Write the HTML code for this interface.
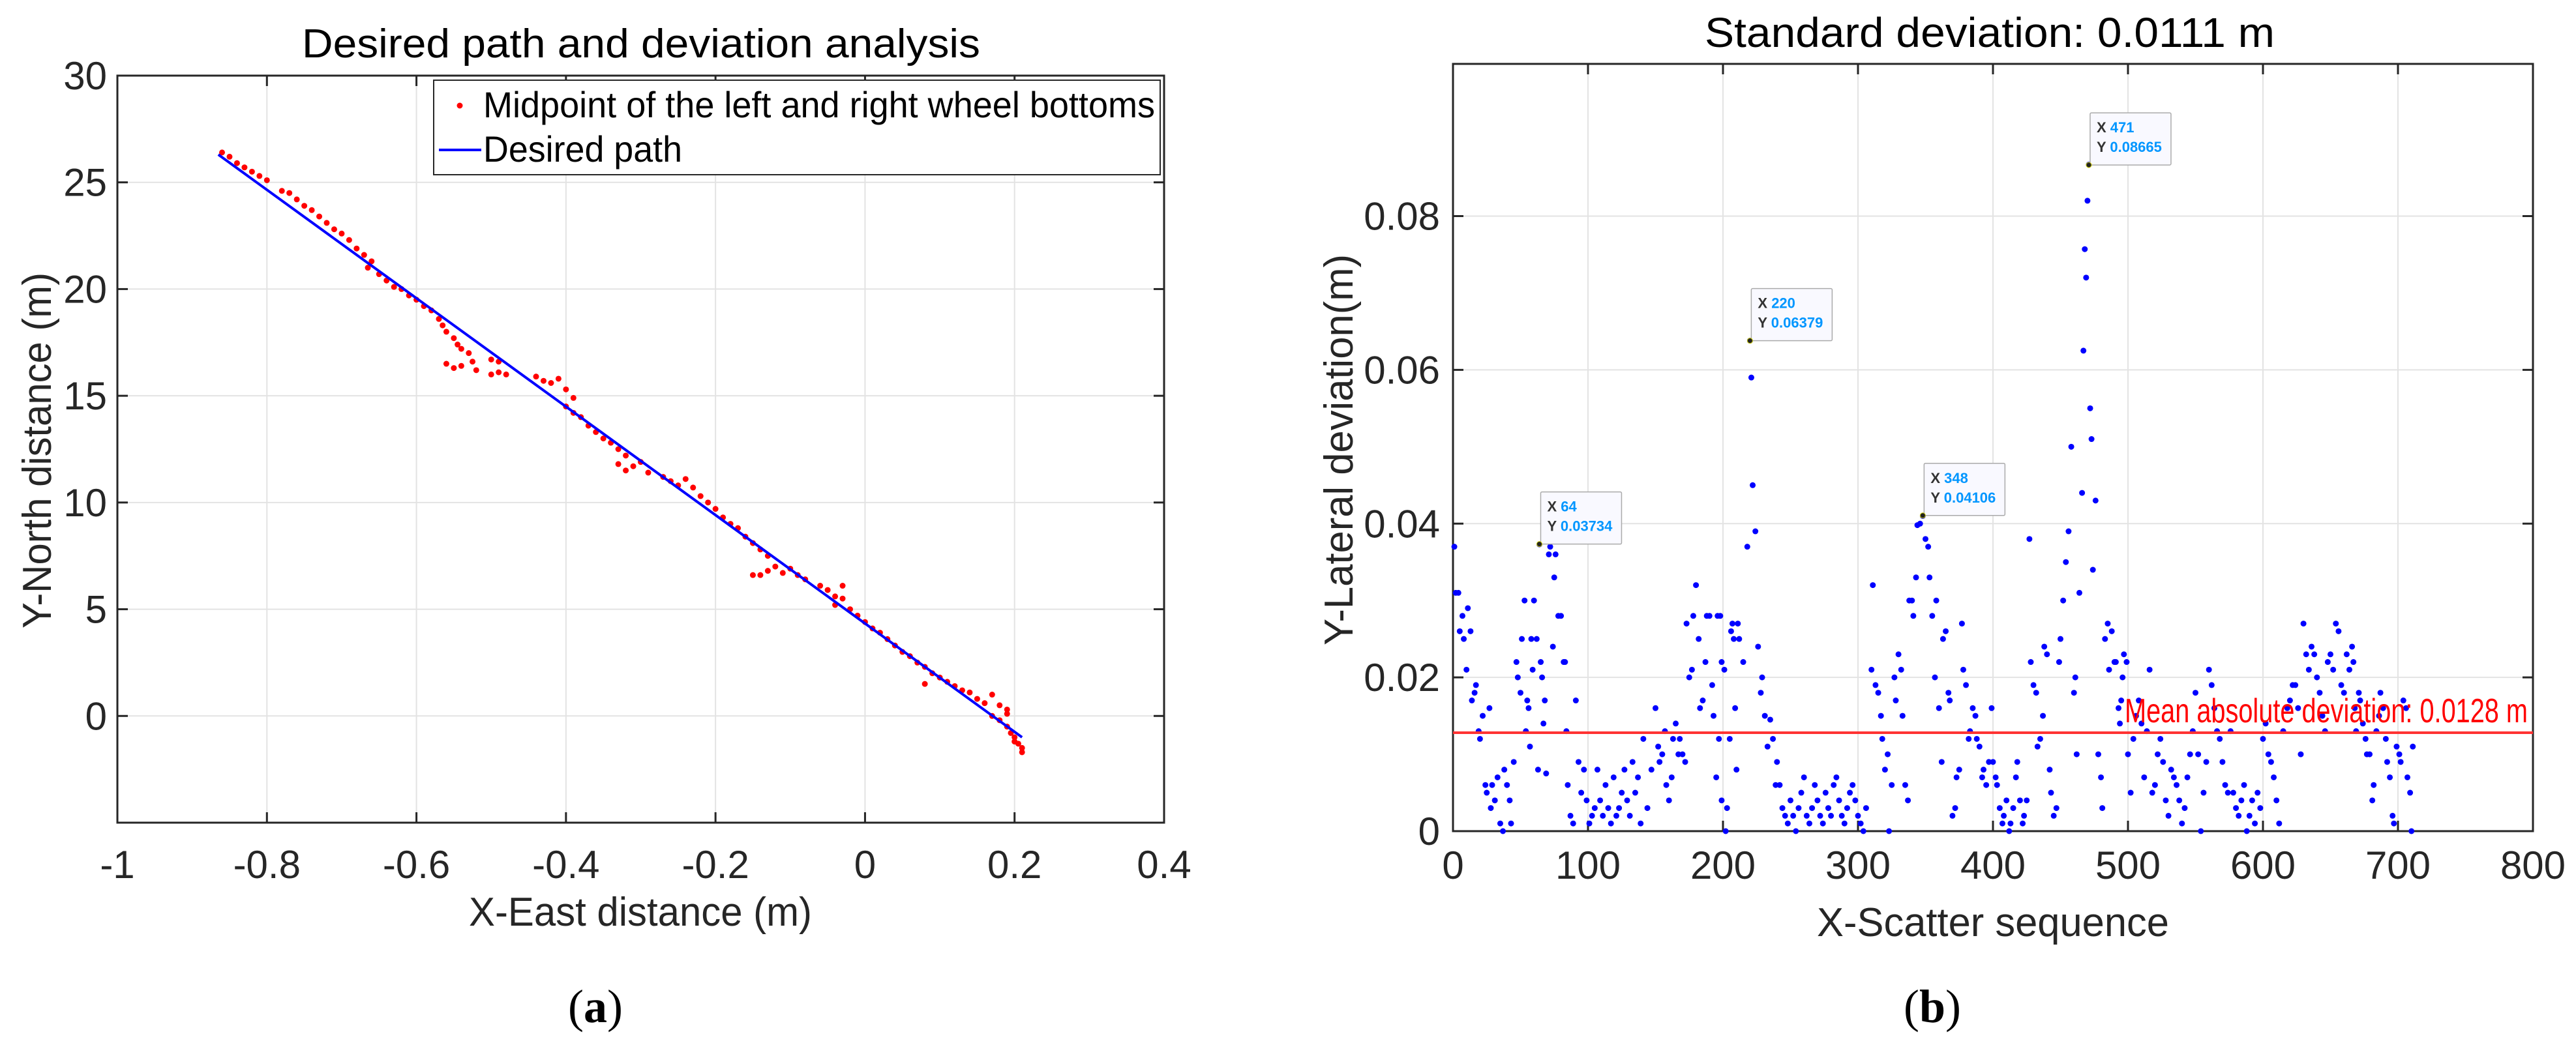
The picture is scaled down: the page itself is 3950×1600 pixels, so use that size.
<!DOCTYPE html>
<html><head><meta charset="utf-8"><style>
html,body{margin:0;padding:0;background:#fff;}
svg{display:block;font-family:"Liberation Sans",Arial,sans-serif;}
</style></head><body>
<svg id="fig" width="3950" height="1600" viewBox="0 0 3950 1600">
<g id="pa"></g>
<g id="pb"></g>
</svg>
<script>
// ---- Panel (a) data ----
const pathX = [-0.865, 0.21];
const pathY = [26.3, -1.0];
const ptsX = [-0.86,-0.85,-0.84,-0.83,-0.82,-0.81,-0.8,-0.78,-0.77,-0.76,-0.75,-0.74,-0.73,-0.72,-0.71,-0.70,-0.69,-0.68,-0.67,-0.66,-0.665,-0.65,-0.64,-0.63,-0.62,-0.61,-0.60,-0.59,-0.58,-0.57,-0.565,-0.56,-0.55,-0.545,-0.54,-0.53,-0.525,-0.56,-0.55,-0.54,-0.52,-0.50,-0.49,-0.48,-0.50,-0.49,-0.44,-0.43,-0.42,-0.41,-0.40,-0.39,-0.40,-0.39,-0.38,-0.37,-0.36,-0.35,-0.34,-0.33,-0.32,-0.33,-0.32,-0.31,-0.30,-0.29,-0.27,-0.26,-0.25,-0.24,-0.23,-0.22,-0.21,-0.20,-0.19,-0.18,-0.17,-0.16,-0.15,-0.14,-0.13,-0.12,-0.13,-0.11,-0.15,-0.14,-0.10,-0.09,-0.08,-0.06,-0.05,-0.04,-0.03,-0.04,-0.03,-0.02,-0.01,0.0,0.01,0.02,0.03,0.04,0.05,0.06,0.07,0.08,0.09,0.08,0.10,0.11,0.12,0.13,0.14,0.15,0.16,0.17,0.18,0.19,0.17,0.18,0.19,0.195,0.20,0.205,0.21,0.21,0.20,0.19];
const ptsY = [26.4,26.2,25.9,25.7,25.5,25.3,25.1,24.6,24.5,24.2,23.9,23.7,23.4,23.1,22.8,22.6,22.3,21.9,21.6,21.3,21.0,20.7,20.4,20.1,20.0,19.7,19.5,19.2,19.0,18.6,18.3,18.0,17.7,17.4,17.2,17.0,16.6,16.5,16.3,16.4,16.2,16.0,16.1,16.0,16.7,16.6,15.9,15.7,15.6,15.8,15.3,14.9,14.5,14.2,14.0,13.6,13.3,13.0,12.8,12.5,12.2,11.8,11.5,11.7,11.9,11.4,11.2,11.0,10.8,11.1,10.7,10.3,10.0,9.7,9.3,9.0,8.8,8.4,8.1,7.8,7.5,7.0,6.8,6.7,6.6,6.6,6.9,6.6,6.4,6.1,5.9,5.6,5.5,5.2,6.1,5.0,4.7,4.4,4.1,3.9,3.6,3.3,3.0,2.8,2.5,2.3,2.0,1.5,1.8,1.6,1.4,1.2,1.1,0.8,0.6,1.0,0.5,0.3,0.0,-0.2,-0.5,-0.8,-1.0,-1.3,-1.5,-1.7,-1.2,0.1];
const aXTicks = [-1,-0.8,-0.6,-0.4,-0.2,0,0.2,0.4];
const aXTickLabels = ["-1","-0.8","-0.6","-0.4","-0.2","0","0.2","0.4"];
const aYTicks = [0,5,10,15,20,25,30];
const aYTickLabels = ["0","5","10","15","20","25","30"];

// ---- Panel (b) data ----
const seqIdx = [1,2,4,5,7,8,10,11,13,14,16,17,19,20,22,24,25,27,28,29,
31,33,35,37,38,40,42,43,45,47,48,50,51,53,54,55,56,57,58,59,
60,64,62,63,65,66,67,68,69,71,72,74,75,76,78,80,82,83,84,85,87,89,
91,93,95,97,99,101,103,105,107,109,111,113,115,117,119,121,123,125,127,129,131,133,135,137,139,141,144,147,
150,152,153,155,157,158,160,162,163,165,167,168,170,172,173,175,177,178,180,182,183,185,187,188,190,192,193,195,197,199,
196,198,199,201,202,203,205,206,207,208,209,210,211,212,215,218,220,221,222,224,226,228,229,231,233,235,237,239,
240,242,244,246,248,250,252,254,256,258,260,262,264,266,268,270,272,274,276,278,280,282,284,286,288,290,292,294,296,298,300,302,304,306,
310,311,313,315,317,318,320,322,323,325,327,328,330,332,333,335,337,338,340,341,343,344,346,348,
350,352,353,355,357,358,360,362,363,365,367,368,370,372,373,375,377,378,380,382,383,385,387,388,390,392,393,395,397,399,
400,402,403,405,407,408,410,412,413,415,417,418,420,422,423,425,427,428,430,432,433,435,437,438,440,442,443,445,447,449,
450,452,454,456,458,460,461,462,464,466,467,468,469,470,471,472,473,474,476,478,480,481,483,485,486,488,490,491,493,494,495,496,497,499,
500,502,504,506,508,510,512,514,516,518,520,522,524,526,528,530,532,534,536,538,540,542,544,546,548,550,552,554,556,558,
560,562,564,566,568,570,572,574,576,578,580,582,584,586,588,590,592,594,596,598,600,602,604,606,608,610,612,615,618,
620,622,624,626,628,630,632,634,636,638,640,642,644,646,648,650,652,654,656,658,660,662,664,666,667,668,669,
671,672,674,676,677,679,681,682,684,686,687,689,691,692,694,696,697,699,701,702,704,706,707,709,710,711];
const deviation = [0.037,0.031,0.031,0.026,0.028,0.025,0.021,0.029,0.026,0.017,0.018,0.019,0.013,0.012,0.015,0.006,0.005,0.016,0.003,0.006,
0.004,0.007,0.001,0.0,0.008,0.006,0.004,0.001,0.009,0.022,0.02,0.018,0.025,0.03,0.013,0.017,0.016,0.011,0.025,0.021,
0.03,0.0373,0.025,0.008,0.022,0.02,0.014,0.017,0.0075,0.036,0.037,0.024,0.033,0.036,0.028,0.028,0.022,0.022,0.013,0.006,0.002,0.001,
0.017,0.009,0.005,0.008,0.004,0.001,0.002,0.003,0.008,0.004,0.002,0.006,0.003,0.001,0.007,0.002,0.003,0.005,0.008,0.004,0.002,0.009,0.005,0.007,0.001,0.012,0.003,0.008,
0.016,0.011,0.009,0.01,0.013,0.006,0.004,0.007,0.012,0.014,0.01,0.012,0.01,0.009,0.027,0.02,0.021,0.028,0.032,0.025,0.016,0.017,0.022,0.028,0.028,0.019,0.015,0.007,0.012,0.004,
0.028,0.028,0.022,0.021,0.0,0.003,0.012,0.026,0.027,0.025,0.016,0.008,0.027,0.025,0.022,0.037,0.0638,0.059,0.045,0.039,0.024,0.018,0.02,0.015,0.011,0.0145,0.012,0.006,
0.009,0.006,0.003,0.002,0.001,0.004,0.002,0.0,0.003,0.005,0.007,0.002,0.001,0.003,0.006,0.004,0.002,0.001,0.005,0.003,0.002,0.006,0.007,0.004,0.002,0.001,0.003,0.005,0.006,0.004,0.002,0.001,0.0,0.003,
0.021,0.032,0.019,0.018,0.015,0.012,0.008,0.01,0.0,0.006,0.02,0.017,0.023,0.021,0.015,0.006,0.004,0.03,0.03,0.028,0.033,0.0398,0.04,0.041,
0.038,0.037,0.033,0.028,0.02,0.03,0.016,0.009,0.025,0.026,0.018,0.017,0.002,0.003,0.007,0.008,0.027,0.021,0.019,0.012,0.013,0.016,0.015,0.012,0.011,0.007,0.008,0.006,0.009,0.016,
0.009,0.007,0.006,0.003,0.001,0.002,0.004,0.0,0.001,0.003,0.007,0.009,0.004,0.001,0.002,0.004,0.038,0.022,0.019,0.018,0.011,0.012,0.015,0.024,0.023,0.008,0.005,0.002,0.003,0.022,
0.025,0.03,0.035,0.039,0.05,0.018,0.02,0.01,0.031,0.044,0.0625,0.0757,0.072,0.082,0.0867,0.055,0.051,0.034,0.043,0.01,0.007,0.003,0.025,0.027,0.021,0.026,0.022,0.022,0.016,0.014,0.017,0.02,0.023,0.022,
0.01,0.005,0.012,0.015,0.017,0.014,0.007,0.013,0.021,0.005,0.006,0.01,0.012,0.009,0.004,0.002,0.008,0.007,0.006,0.004,0.001,0.003,0.007,0.01,0.013,0.018,0.01,0.0,0.005,0.009,
0.021,0.019,0.016,0.013,0.012,0.009,0.006,0.005,0.013,0.005,0.003,0.002,0.004,0.006,0.0,0.002,0.004,0.001,0.005,0.003,0.012,0.014,0.01,0.009,0.007,0.004,0.001,0.013,0.016,
0.017,0.019,0.019,0.016,0.01,0.027,0.023,0.021,0.024,0.023,0.02,0.018,0.015,0.013,0.022,0.023,0.021,0.027,0.026,0.019,0.018,0.023,0.021,0.024,0.022,0.016,0.013,
0.018,0.017,0.014,0.012,0.01,0.01,0.004,0.006,0.013,0.015,0.018,0.016,0.012,0.009,0.007,0.002,0.001,0.011,0.01,0.009,0.017,0.016,0.007,0.005,0.0,0.011];
const meanAbsDev = 0.0128;
const tipX = [64,220,348,471];
const tipY = [0.03734,0.06379,0.04106,0.08665];
const tipXLabels = ["64","220","348","471"];
const tipYLabels = ["0.03734","0.06379","0.04106","0.08665"];
const bXTicks = [0,100,200,300,400,500,600,700,800];
const bXTickLabels = ["0","100","200","300","400","500","600","700","800"];
const bYTicks = [0,0.02,0.04,0.06,0.08];
const bYTickLabels = ["0","0.02","0.04","0.06","0.08"];

const NS = "http://www.w3.org/2000/svg";
function mk(parent, tag, attrs, text) {
  const e = document.createElementNS(NS, tag);
  for (const k in attrs) e.setAttribute(k, attrs[k]);
  if (text !== undefined) e.textContent = text;
  parent.appendChild(e);
  return e;
}
const INK = "#262626";

// ---------- Panel A ----------
const pa = document.getElementById('pa');
const A = {l:180, r:1785, t:116, b:1262, x0:-1, x1:0.4, y0:-5, y1:30};
const ax = v => A.l + (v - A.x0) / (A.x1 - A.x0) * (A.r - A.l);
const ay = v => A.b - (v - A.y0) / (A.y1 - A.y0) * (A.b - A.t);

aXTicks.forEach((v, i) => {
  const x = ax(v);
  const g = mk(pa, 'line', {x1:x, x2:x, y1:A.t, y2:A.b, stroke:'#e3e3e3', 'stroke-width':2});
  
  
  mk(pa, 'line', {x1:x, x2:x, y1:A.b, y2:A.b-16, stroke:INK, 'stroke-width':3});
  mk(pa, 'line', {x1:x, x2:x, y1:A.t, y2:A.t+16, stroke:INK, 'stroke-width':3});
  const t = mk(pa, 'text', {x:x, y:A.b+85, 'text-anchor':'middle', 'font-size':60, fill:INK}, aXTickLabels[i]);
  
  
});
aYTicks.forEach((v, i) => {
  const y = ay(v);
  const g = mk(pa, 'line', {x1:A.l, x2:A.r, y1:y, y2:y, stroke:'#e3e3e3', 'stroke-width':2});
  
  
  mk(pa, 'line', {x1:A.l, x2:A.l+16, y1:y, y2:y, stroke:INK, 'stroke-width':3});
  mk(pa, 'line', {x1:A.r, x2:A.r-16, y1:y, y2:y, stroke:INK, 'stroke-width':3});
  const t = mk(pa, 'text', {x:A.l-16, y:y+21, 'text-anchor':'end', 'font-size':60, fill:INK}, aYTickLabels[i]);
  
  
});
const aBox = mk(pa, 'rect', {x:A.l, y:A.t, width:A.r-A.l, height:A.b-A.t, fill:'none', stroke:INK, 'stroke-width':3});



ptsX.forEach((v, i) => {
  const c = mk(pa, 'circle', {cx:ax(v), cy:ay(ptsY[i]), r:4.5, fill:'#ff0000'});
  
  
});
const pl = mk(pa, 'line', {x1:ax(pathX[0]), y1:ay(pathY[0]), x2:ax(pathX[1]), y2:ay(pathY[1]), stroke:'#0000ff', 'stroke-width':4});



const at = mk(pa, 'text', {x:983, y:88, 'text-anchor':'middle', 'font-size':62, fill:'#000', textLength:1040, lengthAdjust:'spacingAndGlyphs'}, 'Desired path and deviation analysis');


const axl = mk(pa, 'text', {x:982, y:1420, 'text-anchor':'middle', 'font-size':62, fill:INK, textLength:526, lengthAdjust:'spacingAndGlyphs'}, 'X-East distance (m)');


const ayl = mk(pa, 'text', {x:0, y:0, 'text-anchor':'middle', 'font-size':62, fill:INK, transform:'translate(78,691) rotate(-90)', textLength:546, lengthAdjust:'spacingAndGlyphs'}, 'Y-North distance (m)');



const lg = mk(pa, 'g', {});


mk(lg, 'rect', {x:665, y:123, width:1114, height:145, fill:'#fff', stroke:INK, 'stroke-width':2});
mk(lg, 'circle', {cx:705, cy:162, r:4.5, fill:'#ff0000'});
const l1 = mk(lg, 'text', {x:741, y:180, 'font-size':56, fill:'#000', textLength:1030, lengthAdjust:'spacingAndGlyphs'}, 'Midpoint of the left and right wheel bottoms');


mk(lg, 'line', {x1:673, x2:738, y1:230, y2:230, stroke:'#0000ff', 'stroke-width':4});
const l2 = mk(lg, 'text', {x:741, y:248, 'font-size':56, fill:'#000', textLength:305, lengthAdjust:'spacingAndGlyphs'}, 'Desired path');



const la = mk(pa, 'text', {x:913, y:1568, 'text-anchor':'middle', 'font-size':72, 'font-family':'Liberation Serif, serif', fill:'#000'}, '');


mk(la, 'tspan', {}, '(');
mk(la, 'tspan', {'font-weight':'bold'}, 'a');
mk(la, 'tspan', {}, ')');

// ---------- Panel B ----------
const pb = document.getElementById('pb');
const B = {l:2228, r:3884, t:98, b:1275, x0:0, x1:800, y0:0, y1:0.0998};
const bx = v => B.l + (v - B.x0) / (B.x1 - B.x0) * (B.r - B.l);
const by = v => B.b - (v - B.y0) / (B.y1 - B.y0) * (B.b - B.t);

bXTicks.forEach((v, i) => {
  const x = bx(v);
  const g = mk(pb, 'line', {x1:x, x2:x, y1:B.t, y2:B.b, stroke:'#e3e3e3', 'stroke-width':2});
  
  
  mk(pb, 'line', {x1:x, x2:x, y1:B.b, y2:B.b-16, stroke:INK, 'stroke-width':3});
  mk(pb, 'line', {x1:x, x2:x, y1:B.t, y2:B.t+16, stroke:INK, 'stroke-width':3});
  const t = mk(pb, 'text', {x:x, y:B.b+73, 'text-anchor':'middle', 'font-size':60, fill:INK}, bXTickLabels[i]);
  
  
});
bYTicks.forEach((v, i) => {
  const y = by(v);
  const g = mk(pb, 'line', {x1:B.l, x2:B.r, y1:y, y2:y, stroke:'#e3e3e3', 'stroke-width':2});
  
  
  mk(pb, 'line', {x1:B.l, x2:B.l+16, y1:y, y2:y, stroke:INK, 'stroke-width':3});
  mk(pb, 'line', {x1:B.r, x2:B.r-16, y1:y, y2:y, stroke:INK, 'stroke-width':3});
  const t = mk(pb, 'text', {x:B.l-20, y:y+21, 'text-anchor':'end', 'font-size':60, fill:INK}, bYTickLabels[i]);
  
  
});
const bBox = mk(pb, 'rect', {x:B.l, y:B.t, width:B.r-B.l, height:B.b-B.t, fill:'none', stroke:INK, 'stroke-width':3});



seqIdx.forEach((v, i) => {
  const c = mk(pb, 'circle', {cx:bx(v), cy:by(deviation[i]), r:4.5, fill:'#0000ff'});
  
  
});
const ml = mk(pb, 'line', {x1:B.l, x2:B.r, y1:by(meanAbsDev), y2:by(meanAbsDev), stroke:'#ff3333', 'stroke-width':4});


const mt = mk(pb, 'text', {x:3258, y:by(meanAbsDev)-16, 'font-size':52, fill:'#ff0000', textLength:618, lengthAdjust:'spacingAndGlyphs'}, 'Mean absolute deviation: 0.0128 m');



tipX.forEach((v, i) => {
  const x = bx(v), y = by(tipY[i]);
  const g = mk(pb, 'g', {});
  
  
  mk(g, 'rect', {x:x+2, y:y-80, width:124, height:80, fill:'#f9f9ff', stroke:'#aaaaaa', 'stroke-width':1.5, rx:2});
  mk(g, 'circle', {cx:x, cy:y, r:4, fill:'#222', stroke:'#cccc00', 'stroke-width':1});
  const t1 = mk(g, 'text', {x:x+12, y:y-50, 'font-size':22, 'font-weight':'bold', fill:'#333'}, 'X ');
  mk(t1, 'tspan', {fill:'#0096ff'}, tipXLabels[i]);
  const t2 = mk(g, 'text', {x:x+12, y:y-20, 'font-size':22, 'font-weight':'bold', fill:'#333'}, 'Y ');
  mk(t2, 'tspan', {fill:'#0096ff'}, tipYLabels[i]);
});

const bt = mk(pb, 'text', {x:3051, y:72, 'text-anchor':'middle', 'font-size':64, fill:'#000', textLength:874, lengthAdjust:'spacingAndGlyphs'}, 'Standard deviation: 0.0111 m');


const bxl = mk(pb, 'text', {x:3056, y:1436, 'text-anchor':'middle', 'font-size':62, fill:INK, textLength:540, lengthAdjust:'spacingAndGlyphs'}, 'X-Scatter sequence');


const byl = mk(pb, 'text', {x:0, y:0, 'text-anchor':'middle', 'font-size':62, fill:INK, transform:'translate(2074,690) rotate(-90)', textLength:600, lengthAdjust:'spacingAndGlyphs'}, 'Y-Lateral deviation(m)');



const lb = mk(pb, 'text', {x:2963, y:1568, 'text-anchor':'middle', 'font-size':72, 'font-family':'Liberation Serif, serif', fill:'#000'}, '');


mk(lb, 'tspan', {}, '(');
mk(lb, 'tspan', {'font-weight':'bold'}, 'b');
mk(lb, 'tspan', {}, ')');
</script>
</body></html>
